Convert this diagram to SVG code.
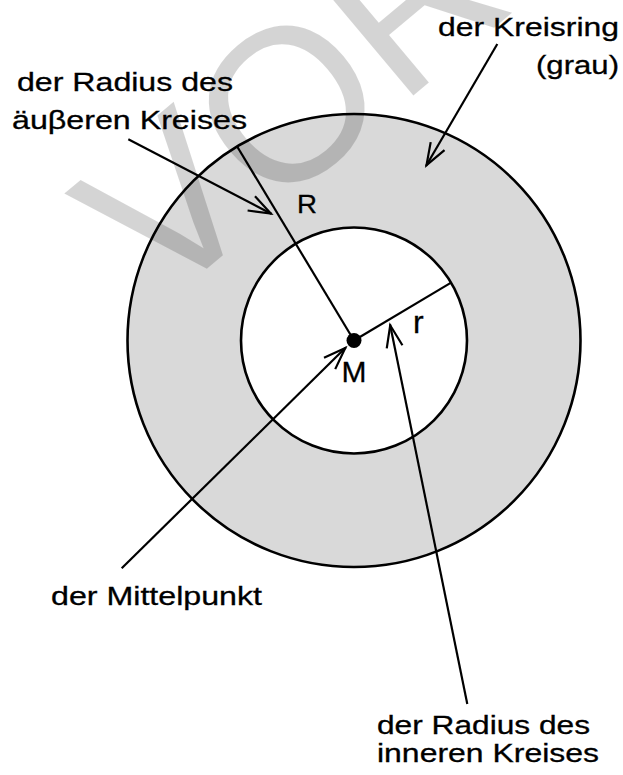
<svg xmlns="http://www.w3.org/2000/svg" width="623" height="775" viewBox="0 0 623 775">
<style>
.lbl{font-family:"Liberation Sans",Arial,sans-serif;font-size:26px;fill:#000;stroke:#000;stroke-width:0.3}
.sym{font-family:"Liberation Sans",Arial,sans-serif;fill:#000;stroke:#000;stroke-width:0.3}
.wm{font-family:"Liberation Sans",Arial,sans-serif;font-size:217px;fill:#000;fill-opacity:0.17}
.circ{stroke:#000;stroke-width:2.6}
.ln{stroke:#000;stroke-width:2.2;fill:none}
.arr{stroke:#000;stroke-width:2.2;fill:none;marker-end:url(#ah)}
</style>
<defs>
<marker id="ah" markerUnits="userSpaceOnUse" viewBox="-26 -12 30 24" refX="1" refY="0" markerWidth="30" markerHeight="24" orient="auto">
<path d="M-22,-8 L0,0 L-22,8" fill="none" stroke="#000" stroke-width="2.2" stroke-linejoin="miter"/>
</marker>
</defs>
<rect width="623" height="775" fill="#fff"/>
<g id="kreisring">
<circle class="circ" cx="354" cy="340.5" r="226.5" fill="#d9d9d9"/>
<circle class="circ" cx="354" cy="340.5" r="113" fill="#fff"/>
</g>
<text class="wm" x="159.6" y="308.5" transform="rotate(-40 159.6 308.5)">VOR</text>
<g id="radien">
<line class="ln" x1="354" y1="340.5" x2="237.3" y2="146.7"/>
<line class="ln" x1="354" y1="340.5" x2="451.1" y2="282.6"/>
</g>
<g id="connectors">
<line class="arr" x1="128.3" y1="139.3" x2="271.7" y2="214"/>
<line class="arr" x1="497.3" y1="44" x2="426" y2="166"/>
<line class="arr" x1="121.7" y1="568.3" x2="346" y2="347.3"/>
<line class="arr" x1="467.3" y1="704" x2="390" y2="324.3"/>
</g>
<g id="mittelpunkt">
<circle cx="354" cy="340.5" r="7.5" fill="#000"/>
<text class="sym" x="354" y="382" font-size="30" text-anchor="middle" textLength="25" lengthAdjust="spacingAndGlyphs">M</text>
</g>
<g id="label-R"><text class="sym" x="297" y="213" font-size="25" textLength="20" lengthAdjust="spacingAndGlyphs">R</text></g>
<g id="label-r"><text class="sym" x="413" y="333" font-size="32">r</text></g>
<g id="label-aussen">
<text class="lbl" x="17" y="91" textLength="216" lengthAdjust="spacingAndGlyphs">der Radius des</text>
<text class="lbl" x="12" y="129" textLength="235" lengthAdjust="spacingAndGlyphs">äuβeren Kreises</text>
</g>
<g id="label-kreisring">
<text class="lbl" x="438" y="36" textLength="181" lengthAdjust="spacingAndGlyphs">der Kreisring</text>
<text class="lbl" x="536" y="74" textLength="83" lengthAdjust="spacingAndGlyphs">(grau)</text>
</g>
<g id="label-mittelpunkt">
<text class="lbl" x="51" y="605" textLength="211" lengthAdjust="spacingAndGlyphs">der Mittelpunkt</text>
</g>
<g id="label-innen">
<text class="lbl" x="377" y="734" textLength="213" lengthAdjust="spacingAndGlyphs">der Radius des</text>
<text class="lbl" x="377" y="762" textLength="222" lengthAdjust="spacingAndGlyphs">inneren Kreises</text>
</g>
</svg>
